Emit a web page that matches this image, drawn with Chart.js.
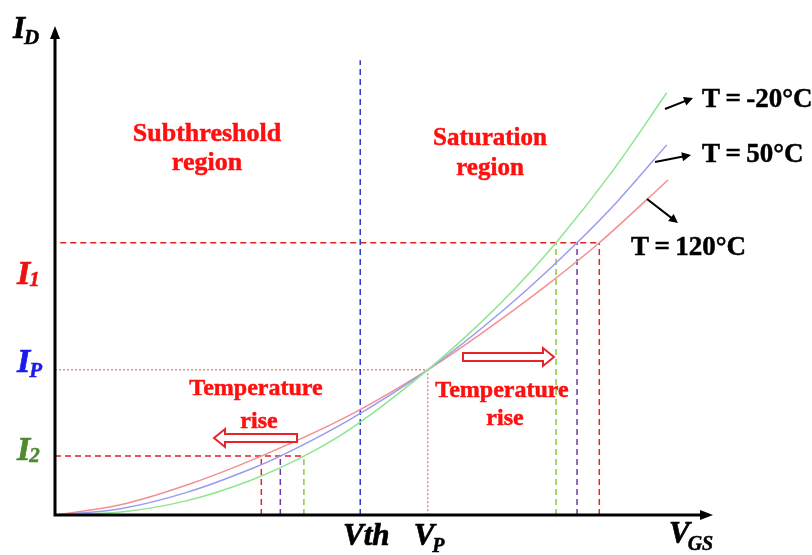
<!DOCTYPE html>
<html>
<head>
<meta charset="utf-8">
<script src="https://cdn.jsdelivr.net/npm/chart.js@4.4.1/dist/chart.umd.min.js"></script>
<style>
  html, body { margin: 0; padding: 0; background: #fff; }
  canvas { display: block; }
</style>
</head>
<body>
<canvas id="mos" width="812" height="555"></canvas>
<script>
// gate voltage / drain current curves for three temperatures
const tempLabels = ['T\u2009=\u2009-20°C', 'T\u2009=\u200950°C', 'T\u2009=\u2009120°C'];
const curveColors = ['#8ee68e', '#9a9af0', '#f29090'];

const vgsCold = [0, 1, 2, 3, 3.80, 4.5, 5.69, 6.5, 7.0, 7.65, 8.5, 9.34];
const idCold  = [0, 0.06, 0.29, 0.72, 1.21, 1.76, 2.98, 3.95, 4.62, 5.59, 7.04, 8.67];

const vgsMid = [0, 1, 2, 3, 3.44, 4.5, 5.69, 6.5, 7.2, 7.97, 8.6, 9.34];
const idMid  = [0, 0.13, 0.46, 0.95, 1.21, 1.96, 2.98, 3.82, 4.62, 5.59, 6.46, 7.60];

const vgsHot = [0, 1, 2, 3.15, 4.5, 5.69, 6.5, 7.5, 8.31, 9.36];
const idHot  = [0, 0.21, 0.61, 1.21, 2.05, 2.98, 3.72, 4.71, 5.59, 6.88];

// reference levels
const vth = 4.66;
const vp = 5.69;
const levelI1 = 5.59;
const levelIP = 2.98;
const levelI2 = 1.21;
const vAtI1 = [7.65, 7.97, 8.31];   // cold, mid, hot
const vAtI2 = [3.80, 3.44, 3.15];
const dropColors = ['#8cc63f', '#6a3aa8', '#d42a2a'];

const toPts = (xs, ys) => xs.map((x, i) => ({ x: x, y: ys[i] }));

function curve(xs, ys, color) {
  return {
    data: toPts(xs, ys), borderColor: color, borderWidth: 1.5,
    showLine: true, pointRadius: 0, cubicInterpolationMode: 'monotone', order: 0
  };
}
function guide(pts, color, dash, width) {
  return {
    data: pts, borderColor: color, borderWidth: width || 1.5, borderDash: dash,
    showLine: true, pointRadius: 0, tension: 0, order: 1
  };
}

const datasets = [
  curve(vgsCold, idCold, curveColors[0]),
  curve(vgsMid, idMid, curveColors[1]),
  curve(vgsHot, idHot, curveColors[2]),
  guide([{ x: vth, y: 0 }, { x: vth, y: 9.34 }], '#2a3ad0', [6, 4]),
  guide([{ x: 0.08, y: levelI1 }, { x: vAtI1[2], y: levelI1 }], '#e02020', [6, 4]),
  guide([{ x: 0, y: levelI2 }, { x: vAtI2[0], y: levelI2 }], '#e02020', [6, 4]),
  guide([{ x: 0, y: levelIP }, { x: vp, y: levelIP }, { x: vp, y: 0 }], '#f08a8a', [2, 2]),
];
vAtI1.forEach((v, i) => datasets.push(guide([{ x: v, y: 0 }, { x: v, y: levelI1 }], dropColors[i], [6, 4])));
vAtI2.forEach((v, i) => datasets.push(guide([{ x: v, y: 0 }, { x: v, y: levelI2 }], dropColors[i], [6, 4])));

const serif = '"Liberation Serif", "Times New Roman", serif';

function arrowHead(ctx, x1, y1, x2, y2, len, half) {
  const a = Math.atan2(y2 - y1, x2 - x1);
  ctx.beginPath();
  ctx.moveTo(x2, y2);
  ctx.lineTo(x2 - len * Math.cos(a) + half * Math.sin(a), y2 - len * Math.sin(a) - half * Math.cos(a));
  ctx.lineTo(x2 - len * Math.cos(a) - half * Math.sin(a), y2 - len * Math.sin(a) + half * Math.cos(a));
  ctx.closePath();
  ctx.fill();
}

function pointer(ctx, x1, y1, x2, y2) {
  ctx.strokeStyle = '#000';
  ctx.fillStyle = '#000';
  ctx.lineWidth = 2;
  ctx.beginPath();
  ctx.moveTo(x1, y1);
  ctx.lineTo(x2 - (x2 - x1) * 0.15, y2 - (y2 - y1) * 0.15);
  ctx.stroke();
  arrowHead(ctx, x1, y1, x2, y2, 9, 4.5);
}

// hollow block arrow, dir = -1 points left, 1 points right
function blockArrow(ctx, tail, tip, cy, dir) {
  const headLen = 11 * dir;
  const base = tip - headLen;
  ctx.beginPath();
  ctx.moveTo(tail, cy - 4);
  ctx.lineTo(base, cy - 4);
  ctx.lineTo(base, cy - 9);
  ctx.lineTo(tip, cy);
  ctx.lineTo(base, cy + 9);
  ctx.lineTo(base, cy + 4);
  ctx.lineTo(tail, cy + 4);
  ctx.closePath();
  ctx.fillStyle = '#fff';
  ctx.fill();
  ctx.strokeStyle = '#e8242a';
  ctx.lineWidth = 2;
  ctx.stroke();
}

// heavy text: fill plus a thin outline in the same colour
function heavy(ctx, text, x, y, color, weight) {
  ctx.fillStyle = color;
  ctx.strokeStyle = color;
  ctx.lineWidth = weight || 0.5;
  ctx.lineJoin = 'miter';
  ctx.fillText(text, x, y);
  ctx.strokeText(text, x, y);
}

function subLabel(ctx, main, sub, x, y, size, subSize, color, subDx, subDy) {
  ctx.textAlign = 'left';
  ctx.textBaseline = 'alphabetic';
  ctx.font = 'italic bold ' + size + 'px ' + serif;
  heavy(ctx, main, x, y, color, 0.7);
  const w = ctx.measureText(main).width;
  ctx.font = 'italic bold ' + subSize + 'px ' + serif;
  heavy(ctx, sub, x + w + subDx, y + subDy, color, 0.5);
}

const decor = {
  id: 'decor',
  afterDraw(chart) {
    const ctx = chart.ctx;
    const xs = chart.scales.x, ys = chart.scales.y;
    const x0 = xs.getPixelForValue(0), y0 = ys.getPixelForValue(0);
    ctx.save();

    // axes with arrow tips
    ctx.strokeStyle = '#000';
    ctx.fillStyle = '#000';
    ctx.lineWidth = 3;
    ctx.beginPath();
    ctx.moveTo(x0, y0 + 1.5);
    ctx.lineTo(x0, 36);
    ctx.moveTo(x0 - 1.5, y0);
    ctx.lineTo(702, y0);
    ctx.stroke();
    arrowHead(ctx, x0, y0, x0, 26, 13, 5);
    arrowHead(ctx, x0, y0, 713, y0, 13, 5);

    // axis and level labels
    subLabel(ctx, 'I', 'D', 13, 38, 31, 21, '#000', -1, 6);
    subLabel(ctx, 'I', '1', 17, ys.getPixelForValue(levelI1) + 41, 34, 21, '#ee1111', -1, 2);
    subLabel(ctx, 'I', 'P', 17, ys.getPixelForValue(levelIP) + 2, 34, 21, '#1a1aee', -1, 5);
    subLabel(ctx, 'I', '2', 17, ys.getPixelForValue(levelI2) + 4, 34, 21, '#4e8a2e', -1, 2);

    ctx.textAlign = 'center';
    ctx.font = 'italic bold 31px ' + serif;
    heavy(ctx, 'Vth', xs.getPixelForValue(vth) + 6, 545, '#000', 0.7);
    subLabel(ctx, 'V', 'P', xs.getPixelForValue(vp) - 14, 545, 31, 20, '#000', -2, 7);
    subLabel(ctx, 'V', 'GS', 669, 543, 31, 20, '#000', -2, 7);

    // region and trend captions
    const red = '#ff1010';
    ctx.textAlign = 'center';
    ctx.font = 'bold 26px ' + serif;
    heavy(ctx, 'Subthreshold', 207, 141, red);
    heavy(ctx, 'region', 207, 170, red);
    ctx.font = 'bold 25px ' + serif;
    heavy(ctx, 'Saturation', 490, 145, red);
    heavy(ctx, 'region', 490, 175, red);
    ctx.font = 'bold 24px ' + serif;
    heavy(ctx, 'Temperature', 256, 395, red);
    heavy(ctx, 'rise', 259, 428, red);
    heavy(ctx, 'Temperature', 502, 397, red);
    heavy(ctx, 'rise', 505, 425, red);

    blockArrow(ctx, 297, 214, 438, -1);
    blockArrow(ctx, 463, 554, 357, 1);

    // temperature tags
    ctx.textAlign = 'left';
    ctx.font = 'bold 27px ' + serif;
    heavy(ctx, tempLabels[0], 702, 107, '#000');
    heavy(ctx, tempLabels[1], 702, 162, '#000');
    heavy(ctx, tempLabels[2], 631, 255, '#000');
    pointer(ctx, 665, 109, 693, 98);
    pointer(ctx, 655, 162, 691, 155);
    pointer(ctx, 647, 199, 678, 223);

    ctx.restore();
  }
};

new Chart(document.getElementById('mos'), {
  type: 'scatter',
  data: { datasets: datasets },
  options: {
    responsive: false,
    animation: false,
    devicePixelRatio: 1,
    layout: { padding: { left: 55, right: 102, top: 28, bottom: 40 } },
    plugins: { legend: { display: false }, tooltip: { enabled: false } },
    elements: { line: { fill: false } },
    scales: {
      x: { type: 'linear', min: 0, max: 10, display: false },
      y: { type: 'linear', min: 0, max: 10, display: false }
    }
  },
  plugins: [decor]
});
</script>
</body>
</html>
